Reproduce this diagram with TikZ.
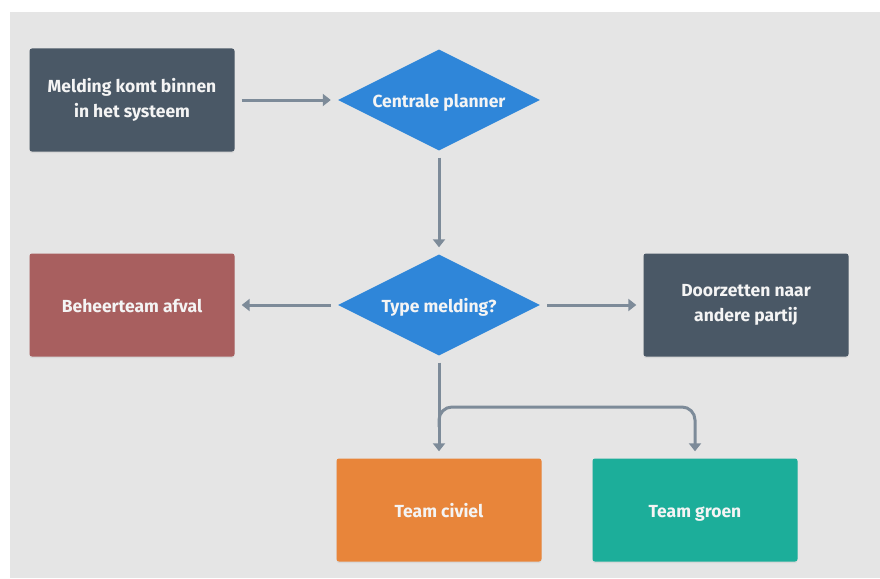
\documentclass[tikz,border=0pt]{standalone}
\usepackage{fontspec}
\setmainfont{Fira Sans}
\usetikzlibrary{shapes.geometric,arrows.meta,shadows}

\definecolor{canvas}{HTML}{E5E5E5}
\definecolor{slate}{HTML}{4A5866}
\definecolor{planblue}{HTML}{2F86D9}
\definecolor{wasterose}{HTML}{A85F5F}
\definecolor{civilorange}{HTML}{E8853A}
\definecolor{greenteal}{HTML}{1CAE9A}
\definecolor{linkgray}{HTML}{7D8B99}
\definecolor{labelwhite}{HTML}{F4F4F4}

% fixed height and depth strut so every label sits at the same height
\newcommand{\lblstrut}{\rule[-0.25em]{0pt}{1.4em}}

\tikzset{
  labeltext/.style={text=labelwhite, align=center,
    font=\bfseries\fontsize{17.5}{25}\selectfont,
    execute at begin node=\lblstrut},
  card/.style={rectangle, rounded corners=2.5pt, minimum width=205pt,
    minimum height=103pt, inner sep=0pt, labeltext,
    drop shadow={opacity=0.12, shadow xshift=0pt, shadow yshift=-1.5pt}},
  choice/.style={diamond, fill=planblue, minimum width=202pt, minimum height=101pt,
    inner sep=0pt, aspect=2, labeltext},
  link/.style={draw=linkgray, line width=3pt,
    -{Triangle[width=12pt,length=8pt]}, shorten >=7pt, shorten <=7pt},
}

\begin{document}
\begin{tikzpicture}[x=1pt,y=-1pt]
  % page and grey canvas
  \fill[white] (0,0) rectangle (880,578);
  \fill[canvas] (10,12) rectangle (880,578);
  \useasboundingbox (0,0) rectangle (880,578);

  % nodes
  \node[card, fill=slate] (melding) at (132,100) {Melding komt binnen\\in het systeem};
  \node[choice] (planner) at (439,100) {Centrale planner};
  \node[choice] (type) at (439,305) {Type melding?};
  \node[card, fill=wasterose] (afval) at (132,305) {Beheerteam afval};
  \node[card, fill=slate] (doorzet) at (746,305) {Doorzetten naar\\andere partij};
  \node[card, fill=civilorange] (civiel) at (439,510) {Team civiel};
  \node[card, fill=greenteal] (groen) at (695,510) {Team groen};

  \coordinate (fork) at (439,407);

  % connectors
  \draw[link] (melding) -- (planner);
  \draw[link] (planner) -- (type);
  \draw[link] (type) -- (afval);
  \draw[link] (type) -- (doorzet);
  \draw[link] (type) -- (civiel);
  \draw[link, rounded corners=13pt, shorten <=0pt]
    ([yshift=-20pt]fork) -- (fork) -- (groen.north |- fork) -- (groen.north);
\end{tikzpicture}
\end{document}
